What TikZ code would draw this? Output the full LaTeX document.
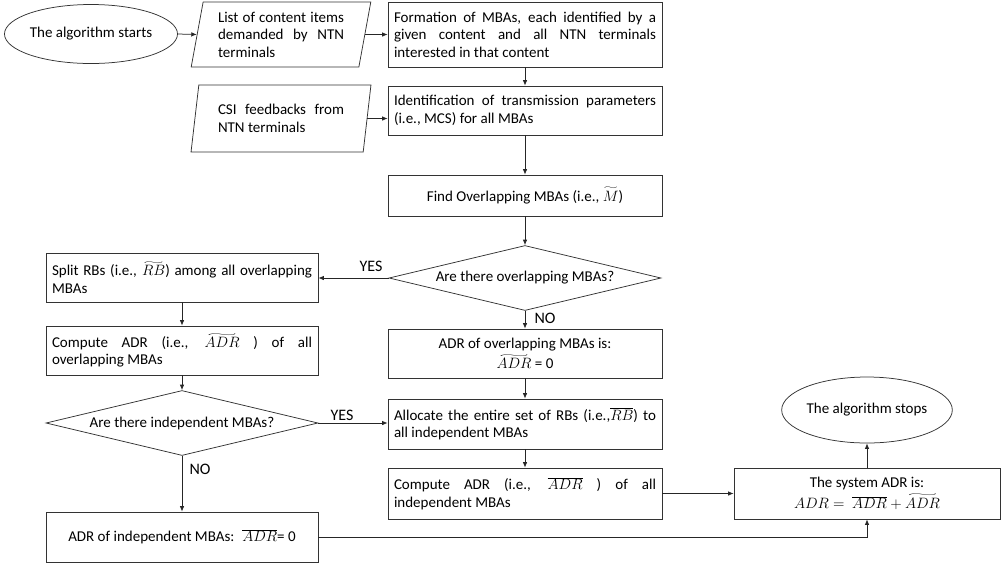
\documentclass[tikz,border=0pt]{standalone}
\usepackage{fix-cm}
\usepackage{graphicx}
\usepackage{fontspec}
\setmainfont{Carlito}
\usetikzlibrary{shapes.geometric,arrows.meta}
\tikzset{
  base/.style={draw=black!80, line width=0.75pt, font=\fontsize{15}{17.5}\selectfont},
  procbox/.style={base, rectangle, inner xsep=6pt, inner ysep=2pt},
  termin/.style={base, ellipse, minimum width=165pt, inner sep=0pt},
  databox/.style={base, trapezium, trapezium left angle=78, trapezium right angle=102,
    trapezium stretches=true, minimum width=180pt, text width=126pt, align=justify, inner sep=0pt},
  ask/.style={base, diamond, aspect=4.2, minimum width=272pt, minimum height=65pt, inner sep=0pt},
  answer/.style={font=\fontsize{16}{18}\selectfont, inner sep=0pt},
  flowarrow/.style={draw=black!85, line width=0.75pt, -{Latex[length=5.5pt,width=4.5pt]}}
}
\newlength{\accw}
\newcommand{\wtilde}[1]{\settowidth{\accw}{$#1$}%
  \vbox{\offinterlineskip\hbox to\accw{\hss\resizebox{0.9\accw}{2.6pt}{$\sim$}\hss}\kern1.2pt\hbox{$#1$}}}
\newcommand{\proc}[5]{\node[procbox, minimum width=#3, minimum height=#4, #5] (#1) at (#2)}
\newcommand{\flow}[2]{\draw[flowarrow] (#1)--(#2);}
\begin{document}
\begin{tikzpicture}[x=1pt, y=-1pt]
  \useasboundingbox (0,0) rectangle (1002,566);

  % Top row
  % -------
  \node[termin, minimum height=59pt] (start) at (91,34) {The algorithm starts};
  \node[databox, minimum height=65pt] (items) at (281,34.5)
    {List of content items\linebreak demanded by NTN\linebreak terminals};
  \node[databox, minimum height=67pt] (csi) at (281,118.5)
    {CSI feedbacks from\linebreak NTN terminals};

  % Right column
  % ------------
  \proc{form}{525,34.5}{274pt}{65pt}{text width=262pt, align=justify}
    {Formation of MBAs, each identified by a\linebreak given content and all NTN terminals\linebreak interested in that content};
  \proc{ident}{525,110.5}{274pt}{49pt}{text width=262pt, align=justify}
    {Identification of transmission parameters\linebreak (i.e., MCS) for all MBAs};
  \proc{find}{525,195.5}{274pt}{41pt}{align=center}
    {Find Overlapping MBAs (i.e., $\wtilde{M}$)};
  \node[ask] (overlap) at (525,278) {Are there overlapping MBAs?};
  \proc{adrov}{525,353.5}{274pt}{49pt}{align=center}
    {ADR of overlapping MBAs is:\\[3pt] $\wtilde{ADR}$ = 0};
  \proc{alloc}{525,424}{274pt}{50pt}{text width=262pt, align=justify}
    {Allocate the entire set of RBs (i.e.,$\overline{RB}$) to\linebreak all independent MBAs};
  \proc{compind}{525,493.5}{274pt}{51pt}{text width=262pt, align=justify}
    {Compute ADR (i.e., $\overline{ADR}$ ) of all\linebreak independent MBAs};

  % Left column
  % -----------
  \proc{split}{182,277.5}{272pt}{49pt}{text width=260pt, align=justify}
    {Split RBs (i.e., $\wtilde{RB}$) among all overlapping\linebreak MBAs};
  \proc{compov}{182,350.5}{272pt}{49pt}{text width=260pt, align=justify}
    {Compute ADR (i.e., $\wtilde{ADR}$ ) of all\linebreak overlapping MBAs};
  \node[ask] (indep) at (182,423) {Are there independent MBAs?};
  \proc{adrind}{182,537}{272pt}{50pt}{align=center}
    {ADR of independent MBAs: \ $\overline{ADR}$= 0};

  % End
  % ---
  \proc{sys}{867,493.5}{266pt}{51pt}{align=center}
    {The system ADR is:\\[3pt] $ADR =\ \overline{ADR}+\wtilde{ADR}$};
  \node[termin, minimum height=66pt] (stop) at (867,410) {The algorithm stops};

  % Arrows
  % ------
  \flow{start.east}{items.west}
  \flow{items.east}{form.west}
  \draw[flowarrow] (csi.east) -- (csi.east -| ident.west);
  \flow{form.south}{ident.north}
  \flow{ident.south}{find.north}
  \flow{find.south}{overlap.north}
  \flow{overlap.south}{adrov.north}
  \flow{adrov.south}{alloc.north}
  \flow{alloc.south}{compind.north}
  \draw[flowarrow] (compind.east) -- (compind.east -| sys.west);
  \flow{sys.north}{stop.south}

  \draw[flowarrow] (overlap.west) -- (overlap.west -| split.east);
  \flow{split.south}{compov.north}
  \flow{compov.south}{indep.north}
  \flow{indep.south}{adrind.north}
  \draw[flowarrow] (indep.east) -- (indep.east -| alloc.west);
  \draw[flowarrow] (adrind.east) -| (sys.south);

  % YES / NO
  \node[answer] (yesov) at (371,266) {YES};
  \node[answer] (noov) at (545,318) {NO};
  \node[answer] (yesind) at (342,415) {YES};
  \node[answer] (noind) at (200,469) {NO};
\end{tikzpicture}
\end{document}
